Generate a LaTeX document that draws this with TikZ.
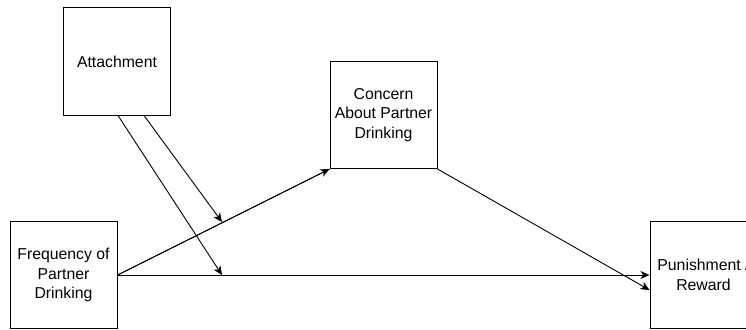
\documentclass[tikz,border=0pt]{standalone}
\usepackage{fontspec}
\setmainfont{Liberation Sans}
\usetikzlibrary{arrows.meta}
\begin{document}
\begin{tikzpicture}[x=1pt,y=-1pt,
  box/.style={draw, line width=1pt, minimum width=107pt, minimum height=107pt, align=center, inner sep=0pt,
    font=\fontsize{15.8}{19.5}\selectfont},
  conn/.style={line width=0.9pt, -{Stealth[length=9pt,width=8pt,inset=2.5pt]}}]
\useasboundingbox (0,0) rectangle (746,329);
\clip (0,0) rectangle (746,329);
\node[box] (att) at (117,61.5) {Attachment};
\node[box] (con) at (383.5,115) {Concern\\About Partner\\Drinking};
\node[box] (freq) at (63.5,275) {Frequency of\\Partner\\Drinking};
\node[box] (pun) at (703.5,275) {Punishment /\\Reward};
\coordinate (mid1) at (222,222);
\coordinate (mid2) at (222,275);
\draw[line width=0.9pt] (freq.east) -- (con.south west);
\draw[conn] (freq.east) -- (pun.west);
\draw[conn] (freq.east) -- (con.south west);
\draw[conn] (con.south east) -- ([yshift=-15pt]pun.west);
\draw[conn] (att.south) ++(1,0) -- (mid2);
\draw[conn] ([xshift=27pt]att.south) -- (mid1);
\end{tikzpicture}
\end{document}
